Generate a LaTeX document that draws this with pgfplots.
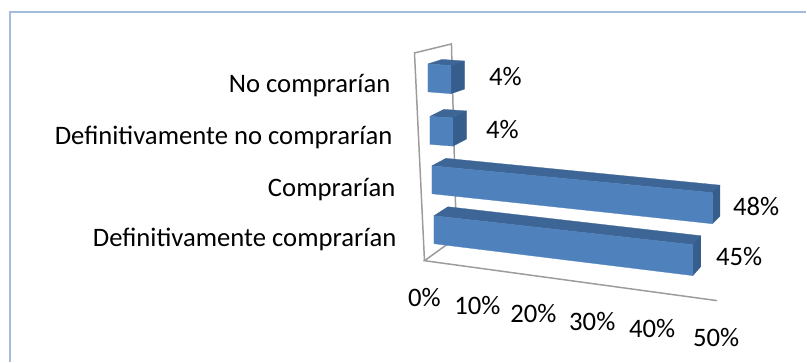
\documentclass[border=0pt]{standalone}
\usepackage{pgfplots}
\usepackage{pgfplotstable}
\usepackage{fontspec}
\setmainfont{Carlito}
\pgfplotsset{compat=1.18}
\definecolor{barfront}{HTML}{4F81BD}
\definecolor{bartop}{HTML}{3D6696}
\definecolor{barside}{HTML}{365E8D}
\definecolor{wallline}{HTML}{9C9C9C}
\definecolor{framecol}{HTML}{A3BCDC}
\tikzset{lab/.style={font=\fontsize{26.8}{30}\selectfont,inner sep=0pt}}

% One box: #1 percent, #2 left x, #3 lower y, #4 x per percent, #5 y per percent, #6 depth rise
\newcommand{\boxbar}[6]{%
  % v = position along the bar, u = up (0/1), f = back (0/1)
  \def\vx{(#2+#4*\thisrow{v}+\thisrow{f}*(14-0.135*\thisrow{v}))}%
  \def\vy{(#3+#5*\thisrow{v}-\thisrow{u}*(28+0.065*\thisrow{v})-\thisrow{f}*#6)}%
  \addplot[fill=bartop,draw=bartop,line width=0.3pt] table[row sep=\\,x expr={\vx},y expr={\vy}]
    {v u f\\ 0 1 0\\ #1 1 0\\ #1 1 1\\ 0 1 1\\ 0 1 0\\};
  \addplot[fill=barside,draw=barside,line width=0.3pt] table[row sep=\\,x expr={\vx},y expr={\vy}]
    {v u f\\ #1 0 0\\ #1 0 1\\ #1 1 1\\ #1 1 0\\ #1 0 0\\};
  \addplot[fill=barfront,draw=barfront,line width=0.3pt] table[row sep=\\,x expr={\vx},y expr={\vy}]
    {v u f\\ 0 0 0\\ #1 0 0\\ #1 1 0\\ 0 1 0\\ 0 0 0\\};
}

\begin{document}
\begin{tikzpicture}
\begin{axis}[
  x=1bp, y=1bp, y dir=reverse,
  xmin=0, xmax=807, ymin=0, ymax=362,
  hide axis, clip=false, scale only axis,
  every axis plot/.append style={mark=none},
]
% chart frame
\addplot[framecol,line width=2pt] coordinates {(10,362) (10,12.5) (807,12.5)};
% walls and floor
\addplot[wallline,line width=1.5pt] coordinates {(425,261) (415,53) (452,44) (457,240)};
\addplot[wallline,line width=1.5pt] coordinates {(457,238) (425,261) (718,301)};
% bars, from the back to the front
\boxbar{4}{428.5}{92}{5.75}{0.45}{4.5}
\boxbar{4}{430.5}{144.5}{5.75}{0.45}{7}
\boxbar{48}{432.5}{194}{5.85}{0.625}{7.5}
\boxbar{45}{434.5}{244}{5.76}{0.71}{9}
% category names
\node[lab,anchor=base east] at (axis cs:391,93) {No comprarían};
\node[lab,anchor=base east] at (axis cs:393,145) {Definitivamente no comprarían};
\node[lab,anchor=base east] at (axis cs:396,196.5) {Comprarían};
\node[lab,anchor=base east] at (axis cs:397,246.5) {Definitivamente comprarían};
% value labels
\node[lab,anchor=base] at (axis cs:506,86) {4\%};
\node[lab,anchor=base] at (axis cs:503,138.5) {4\%};
\node[lab,anchor=base] at (axis cs:757,216) {48\%};
\node[lab,anchor=base] at (axis cs:740,266) {45\%};
% percentage scale
\node[lab,anchor=base] at (axis cs:425,306.5) {0\%};
\node[lab,anchor=base] at (axis cs:478,315) {10\%};
\node[lab,anchor=base] at (axis cs:534,323) {20\%};
\node[lab,anchor=base] at (axis cs:593,331) {30\%};
\node[lab,anchor=base] at (axis cs:653,338) {40\%};
\node[lab,anchor=base] at (axis cs:717,347) {50\%};
\end{axis}
\path (0,0) rectangle (807bp,362bp);
\end{tikzpicture}
\end{document}
